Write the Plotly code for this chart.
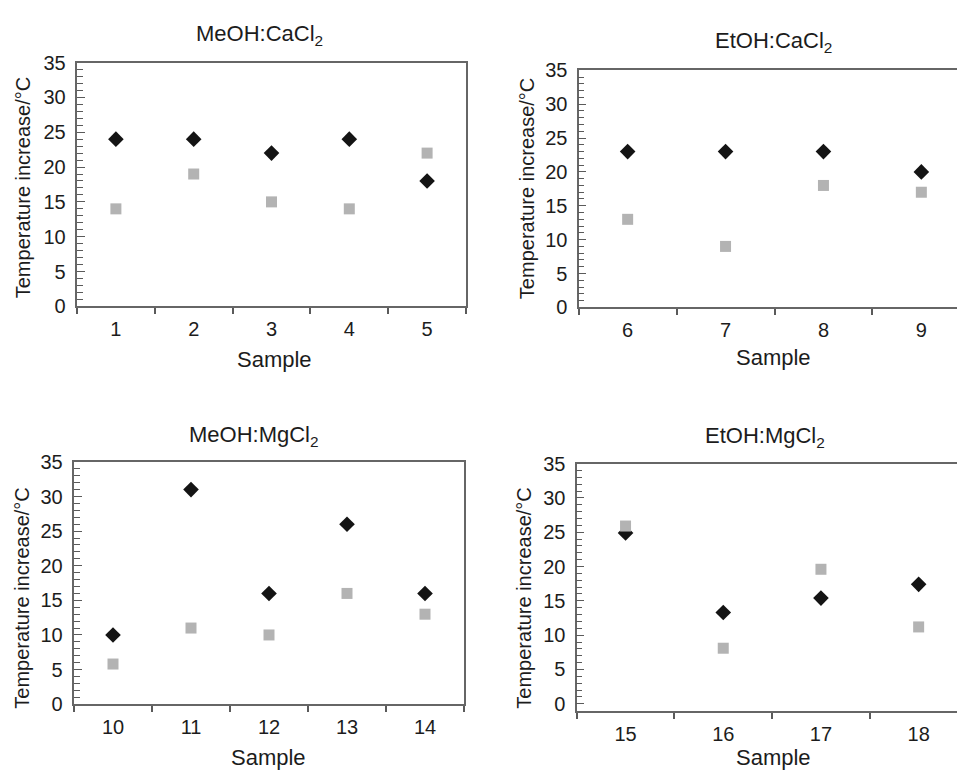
import plotly.graph_objects as go

W, H = 957, 780

# ---- data ----
titles = ["MeOH:CaCl<sub>2</sub>", "EtOH:CaCl<sub>2</sub>", "MeOH:MgCl<sub>2</sub>", "EtOH:MgCl<sub>2</sub>"]
samples_1 = ["1", "2", "3", "4", "5"]
diamond_1 = [24, 24, 22, 24, 18]
square_1 = [14, 19, 15, 14, 22]

samples_2 = ["6", "7", "8", "9"]
diamond_2 = [23, 23, 23, 20]
square_2 = [13, 9, 18, 17]

samples_3 = ["10", "11", "12", "13", "14"]
diamond_3 = [10, 31, 16, 26, 16]
square_3 = [5.8, 11, 10, 16, 13]

samples_4 = ["15", "16", "17", "18"]
diamond_4 = [24.9, 13.3, 15.4, 17.4]
square_4 = [25.9, 8.1, 19.6, 11.2]

y_tick_values = [0, 5, 10, 15, 20, 25, 30, 35]

x_label = "Sample"
y_label = "Temperature increase/°C"

# ---- style ----
FONT = "Liberation Sans, Arial, Helvetica, sans-serif"
TXT = "#1c1c1c"
AX = "#666666"
TK = "#5a5a5a"
DIA = "#141414"
SQ = "#b3b3b3"
NBSP = "\u00a0"

def px_x(p):
    return p / W

def px_y(p):
    return 1 - p / H

panels = [
    dict(cats=samples_1, d=diamond_1, s=square_1,
         xdom=[px_x(77), px_x(466)], ydom=[px_y(304), px_y(53)],
         xr=[-0.5, 4.5], yr=[0, 35]),
    dict(cats=samples_2, d=diamond_2, s=square_2,
         xdom=[px_x(578.7), 1.0], ydom=[px_y(305), px_y(61)],
         xr=[-0.5, -0.5 + (957 - 578.7) / 97.9], yr=[0, 35]),
    dict(cats=samples_3, d=diamond_3, s=square_3,
         xdom=[px_x(74), px_x(464)], ydom=[px_y(713.3), px_y(464)],
         xr=[-0.5, 4.5], yr=[0, 35]),
    dict(cats=samples_4, d=diamond_4, s=square_4,
         xdom=[px_x(576.7), 1.0], ydom=[px_y(720.7), px_y(465.7)],
         xr=[-0.5, -0.5 + (957 - 576.7) / 97.7], yr=[-1.1, 35]),
]

fig = go.Figure()
layout = dict(
    width=W, height=H,
    margin=dict(l=0, r=0, t=0, b=0),
    paper_bgcolor="white", plot_bgcolor="white",
    showlegend=False,
    font=dict(family=FONT, color=TXT, size=20),
)

for i, p in enumerate(panels):
    n = "" if i == 0 else str(i + 1)
    xa, ya = "x" + n, "y" + n
    fig.add_trace(go.Scatter(
        x=p["cats"], y=p["d"], xaxis=xa, yaxis=ya, mode="markers",
        marker=dict(symbol="diamond", size=12, color=DIA, line=dict(width=0)),
        cliponaxis=False))
    fig.add_trace(go.Scatter(
        x=p["cats"], y=p["s"], xaxis=xa, yaxis=ya, mode="markers",
        marker=dict(symbol="square", size=11, color=SQ, line=dict(width=0)),
        cliponaxis=False))
    right_closed = i in (0, 2)
    layout["xaxis" + n] = dict(
        domain=p["xdom"], anchor=ya, type="category", range=p["xr"],
        tickson="boundaries", ticks="outside", ticklen=6, tickwidth=1.5,
        tickcolor=TK, showline=True, linecolor=AX, linewidth=1.5,
        mirror=True, showgrid=False, zeroline=False,
        tickfont=dict(size=20, color=TXT, family=FONT),
        ticklabelstandoff=4,
    )
    layout["yaxis" + n] = dict(
        domain=p["ydom"], anchor=xa, range=p["yr"],
        tickmode="array", tickvals=y_tick_values,
        ticktext=[f"{v}{NBSP}" for v in y_tick_values],
        ticks="inside", ticklen=8, tickwidth=1.4, tickcolor=TK,
        minor=dict(ticks="inside", ticklen=6, tickwidth=1.2, tickcolor=TK,
                   tickmode="linear", tick0=0, dtick=1, showgrid=False),
        showline=True, linecolor=AX, linewidth=1.5,
        mirror=right_closed, showgrid=False, zeroline=False,
        tickfont=dict(size=20, color=TXT, family=FONT),
    )

fig.update_layout(**layout)

# text placements in pixels (centres)
title_pos = [(259, 25), (773.5, 32), (253.5, 437), (765, 438)]
xlab_pos = [(274, 359), (773, 356.7), (268, 768.3), (773, 768)]
ylab_pos = [(22.7, 181.7), (527, 183.3), (21.7, 604), (523.7, 604)]

ann = []
for t, (x, y) in zip(titles, title_pos):
    ann.append(dict(text=t, x=px_x(x), y=px_y(y), xref="paper", yref="paper",
                    xanchor="center", yanchor="middle", showarrow=False,
                    font=dict(size=22, color=TXT, family=FONT)))
for (x, y) in xlab_pos:
    ann.append(dict(text=x_label, x=px_x(x), y=px_y(y), xref="paper", yref="paper",
                    xanchor="center", yanchor="middle", showarrow=False,
                    font=dict(size=22, color=TXT, family=FONT)))
for (x, y) in ylab_pos:
    ann.append(dict(text=y_label, x=px_x(x), y=px_y(y), xref="paper", yref="paper",
                    xanchor="center", yanchor="middle", showarrow=False, textangle=-90,
                    font=dict(size=20, color=TXT, family=FONT)))
fig.update_layout(annotations=ann)

fig.write_html("out.html")
